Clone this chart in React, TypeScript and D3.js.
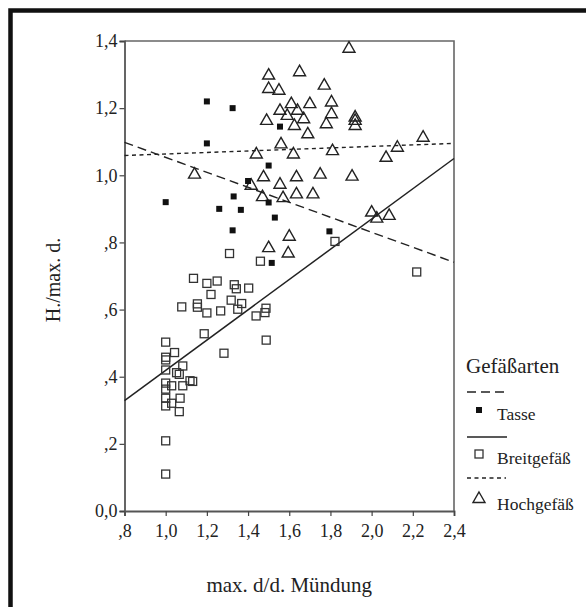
import * as d3 from 'd3';
import { useRef, useEffect } from 'react';

// Tasse (filled squares)
const tasse: [number, number][] = [
    [1.20, 1.22], [1.325, 1.20], [1.20, 1.095], [1.00, 0.92], [1.26, 0.90],
    [1.33, 0.937], [1.40, 0.983], [1.50, 1.029], [1.365, 0.897], [1.50, 0.919],
    [1.53, 0.874], [1.325, 0.836], [1.515, 0.739], [1.555, 1.145], [1.795, 0.833],
];

// Breitgefäß (open squares)
const breit: [number, number][] = [
    [1.31, 0.767], [1.46, 0.744], [1.135, 0.693], [1.20, 0.678], [1.25, 0.685],
    [1.22, 0.645], [1.333, 0.674], [1.343, 0.662], [1.403, 0.664], [1.078, 0.608],
    [1.154, 0.617], [1.154, 0.607], [1.20, 0.590], [1.267, 0.596], [1.318, 0.628],
    [1.369, 0.618], [1.35, 0.601], [1.439, 0.581], [1.487, 0.604], [1.482, 0.591],
    [1.187, 0.528], [1.0, 0.503], [1.488, 0.509], [1.283, 0.470], [1.043, 0.472],
    [1.0, 0.458], [1.0, 0.450], [1.083, 0.432], [1.0, 0.420], [1.053, 0.412],
    [1.066, 0.407], [1.118, 0.388], [1.131, 0.386], [1.0, 0.381], [1.029, 0.373],
    [1.083, 0.373], [1.0, 0.363], [1.0, 0.336], [1.07, 0.336], [1.0, 0.313],
    [1.029, 0.321], [1.066, 0.296], [1.0, 0.209], [1.0, 0.110], [1.822, 0.803],
    [2.219, 0.712],
];

// Hochgefäß (open triangles)
const hoch: [number, number][] = [
    [1.89, 1.38], [1.50, 1.30], [1.65, 1.31], [1.50, 1.26], [1.55, 1.255],
    [1.77, 1.27], [1.555, 1.195], [1.61, 1.215], [1.70, 1.215], [1.805, 1.22],
    [1.64, 1.195], [1.59, 1.18], [1.67, 1.17], [1.805, 1.185], [1.49, 1.165],
    [1.625, 1.15], [1.78, 1.155], [1.92, 1.175], [1.92, 1.165], [1.92, 1.15],
    [1.69, 1.125], [1.56, 1.095], [1.62, 1.065], [1.81, 1.075], [2.25, 1.115],
    [2.125, 1.085], [2.07, 1.055], [1.44, 1.065], [1.14, 1.005], [1.475, 0.997],
    [1.635, 0.997], [1.75, 1.005], [1.905, 0.999], [1.415, 0.972], [1.555, 0.975],
    [1.47, 0.938], [1.57, 0.935], [1.635, 0.946], [1.715, 0.946], [1.50, 0.786],
    [1.60, 0.82], [1.595, 0.77], [2.00, 0.892], [2.025, 0.874], [2.085, 0.882],
];

// fit lines (end points at x = ,8 and 2,4)
const fitTasse: [number, number][] = [[0.8, 1.098], [2.4, 0.741]];
const fitBreit: [number, number][] = [[0.8, 0.329], [2.4, 1.05]];
const fitHoch: [number, number][] = [[0.8, 1.059], [2.4, 1.095]];

const xTicks = [0.8, 1.0, 1.2, 1.4, 1.6, 1.8, 2.0, 2.2, 2.4];
const yTicks = [0, 0.2, 0.4, 0.6, 0.8, 1.0, 1.2, 1.4];

const fmt = (v: number) => {
    const s = v.toFixed(1).replace('.', ',');
    return v > 0 && v < 1 ? s.slice(1) : s;
};

const FONT = '"Liberation Serif", "Times New Roman", serif';
const TRI = 'M0,-6L6,4.5L-6,4.5Z';

const Chart = () => {
    const ref = useRef<SVGSVGElement>(null);

    useEffect(() => {
        if (!ref.current) return;
        const svg = d3.select(ref.current);
        svg.selectAll('*').remove();

        const left = 124.5, right = 454, top = 41, bottom = 511;

        const x = d3.scaleLinear().domain([0.8, 2.4]).range([left, right]);
        const y = d3.scaleLinear().domain([0, 1.4]).range([bottom, top]);

        // outer frame (only top and left edges visible)
        svg.append('path')
            .attr('d', 'M10.5,620V10.5H600')
            .attr('fill', 'none')
            .attr('stroke', '#111')
            .attr('stroke-width', 4.5);

        // plot box
        svg.append('path')
            .attr('d', `M${left},${top}H${right}V${bottom}`)
            .attr('fill', 'none')
            .attr('stroke', '#666')
            .attr('stroke-width', 1.6);

        const gx = svg.append('g')
            .attr('transform', `translate(0,${bottom})`)
            .call(d3.axisBottom(x).tickValues(xTicks).tickFormat(d => fmt(+d)).tickSize(5).tickPadding(8));
        const gy = svg.append('g')
            .attr('transform', `translate(${left},0)`)
            .call(d3.axisLeft(y).tickValues(yTicks).tickFormat(d => fmt(+d)).tickSize(5).tickPadding(2));
        [gx, gy].forEach(g => {
            g.select('.domain').attr('stroke', '#555').attr('stroke-width', 1.8);
            g.selectAll('.tick line').attr('stroke', '#444').attr('stroke-width', 1.2);
            g.selectAll('.tick text')
                .attr('fill', '#222')
                .style('font-family', FONT)
                .style('font-size', '18px');
        });

        // fit lines
        const line = d3.line<[number, number]>().x(d => x(d[0])).y(d => y(d[1]));
        svg.append('path').attr('d', line(fitTasse)).attr('fill', 'none')
            .attr('stroke', '#222').attr('stroke-width', 1.4).attr('stroke-dasharray', '9,5');
        svg.append('path').attr('d', line(fitBreit)).attr('fill', 'none')
            .attr('stroke', '#222').attr('stroke-width', 1.5);
        svg.append('path').attr('d', line(fitHoch)).attr('fill', 'none')
            .attr('stroke', '#222').attr('stroke-width', 1.4).attr('stroke-dasharray', '4,3.5');

        // points
        svg.append('g').selectAll('rect')
            .data(breit)
            .enter().append('rect')
            .attr('x', d => x(d[0]) - 4)
            .attr('y', d => y(d[1]) - 4)
            .attr('width', 8)
            .attr('height', 8)
            .attr('fill', 'none')
            .attr('stroke', '#333')
            .attr('stroke-width', 1.3);

        svg.append('g').selectAll('path')
            .data(hoch)
            .enter().append('path')
            .attr('d', TRI)
            .attr('transform', d => `translate(${x(d[0])},${y(d[1])})`)
            .attr('fill', 'none')
            .attr('stroke', '#222')
            .attr('stroke-width', 1.4);

        svg.append('g').selectAll('rect')
            .data(tasse)
            .enter().append('rect')
            .attr('x', d => x(d[0]) - 3)
            .attr('y', d => y(d[1]) - 3)
            .attr('width', 6)
            .attr('height', 6)
            .attr('fill', '#111');

        // axis titles
        svg.append('text')
            .attr('transform', 'translate(60,280) rotate(-90)')
            .attr('text-anchor', 'middle')
            .style('font-family', FONT)
            .style('font-size', '20px')
            .attr('fill', '#222')
            .text('H./max. d.');
        svg.append('text')
            .attr('x', (left + right) / 2)
            .attr('y', 592)
            .attr('text-anchor', 'middle')
            .style('font-family', FONT)
            .style('font-size', '21px')
            .attr('fill', '#222')
            .text('max. d/d. Mündung');

        // legend
        const lg = svg.append('g').style('font-family', FONT).attr('fill', '#222');
        lg.append('text').attr('x', 466).attr('y', 373).style('font-size', '21px').text('Gefäßarten');
        lg.append('line').attr('x1', 467).attr('x2', 507).attr('y1', 392).attr('y2', 392)
            .attr('stroke', '#222').attr('stroke-width', 1.4).attr('stroke-dasharray', '9,5');
        lg.append('rect').attr('x', 476).attr('y', 407).attr('width', 6).attr('height', 6).attr('fill', '#111');
        lg.append('text').attr('x', 497).attr('y', 420).style('font-size', '17.5px').text('Tasse');
        lg.append('line').attr('x1', 467).attr('x2', 507).attr('y1', 437).attr('y2', 437)
            .attr('stroke', '#222').attr('stroke-width', 1.5);
        lg.append('rect').attr('x', 475).attr('y', 450).attr('width', 8).attr('height', 8)
            .attr('fill', 'none').attr('stroke', '#333').attr('stroke-width', 1.3);
        lg.append('text').attr('x', 497).attr('y', 464).style('font-size', '17.5px').text('Breitgefäß');
        lg.append('line').attr('x1', 467).attr('x2', 506).attr('y1', 478).attr('y2', 478)
            .attr('stroke', '#222').attr('stroke-width', 1.4).attr('stroke-dasharray', '4,3.5');
        lg.append('path').attr('d', TRI).attr('transform', 'translate(479,498)')
            .attr('fill', 'none').attr('stroke', '#222').attr('stroke-width', 1.4);
        lg.append('text').attr('x', 497).attr('y', 510).style('font-size', '17.5px').text('Hochgefäß');
    }, []);

    return (
        <svg ref={ref} width={586} height={607}
            style={{ position: 'absolute', left: 0, top: 0, background: '#fff' }} />
    );
};

export default function App() {
    return <Chart />;
}
